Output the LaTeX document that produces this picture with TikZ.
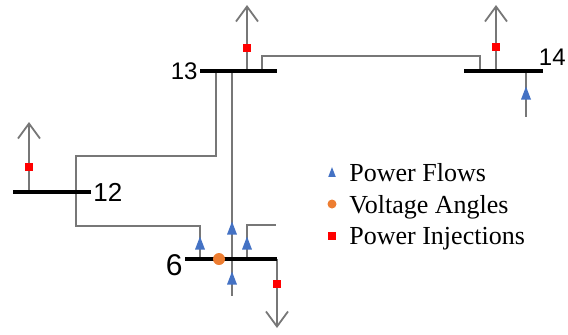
\documentclass[tikz,border=0pt]{standalone}
\usepackage{fontspec}
\setmainfont{Liberation Serif}
\newfontfamily\busfont{Liberation Sans}
\usetikzlibrary{arrows.meta}
\definecolor{flowblue}{HTML}{4472C4}
\definecolor{angleorange}{HTML}{ED7D31}
\definecolor{linegray}{HTML}{777777}

\begin{document}
\begin{tikzpicture}[x=0.5pt, y=-0.5pt,
  bus/.style={line width=2pt},
  line/.style={draw=linegray, line width=0.9pt},
  load/.style={line, -{Straight Barb[length=7.5pt,width=11pt]}},
  inj/.style={fill=red, minimum size=4pt, inner sep=0pt},
  angle/.style={circle, fill=angleorange, minimum size=6pt, inner sep=0pt},
  flow/.pic={\fill[flowblue] (-5,6.5) -- (5,6.5) -- (0,-6.5) -- cycle;},
  busno/.style={font=\busfont\fontsize{12}{14}\selectfont, inner sep=1pt},
  key/.style={font=\fontsize{13}{15}\selectfont, anchor=base west, inner sep=0pt}]
\useasboundingbox (0,0) rectangle (568,334);

% bus ends
\coordinate (b13w) at (200,71); \coordinate (b13e) at (277,71);
\coordinate (b14w) at (464,71); \coordinate (b14e) at (543,71);
\coordinate (b12w) at (13,192); \coordinate (b12e) at (91,192);
\coordinate (b6w) at (185,259); \coordinate (b6e) at (277,259);

% lines between buses
\draw[line] (216,71) -- (216,156) -- (76,156) -- (76,226) -- (200,226) -- (200,259);
\draw[line] (232,71) -- (232,296);
\draw[line] (262,71) -- (262,56) -- (480,56) -- (480,71);
\draw[line] (247,259) -- (247,225) -- (276,225);
\draw[line] (526,71) -- (526,117);

% loads
\draw[load] (247,71) -- (247,5);
\draw[load] (496,71) -- (496,5);
\draw[load] (29,192) -- (29,122);
\draw[load] (b6e) -- (277,328);

% buses
\draw[bus] (b13w) -- (b13e);
\draw[bus] (b14w) -- (b14e);
\draw[bus] (b12w) -- (b12e);
\draw[bus] (b6w) -- (b6e);
\node[busno, anchor=east] (n13) at (b13w) {13};
\node[busno, anchor=east, inner sep=0pt] (n14) at (566,57) {14};
\node[busno, anchor=west, font=\busfont\fontsize{13}{15}\selectfont] (n12) at (b12e) {12};
\node[busno, anchor=east, font=\busfont\fontsize{15}{17}\selectfont] (n6) at ([yshift=-3]b6w) {6};

% measurements
\node[inj] (p13) at (247,48) {};
\node[inj] (p14) at (496,47) {};
\node[inj] (p12) at (29,167) {};
\node[inj] (p6) at (277,284) {};
\pic (f1) at (200,243) {flow};
\pic (f2) at (232,228) {flow};
\pic (f3) at (232,278) {flow};
\pic (f4) at (247,243) {flow};
\pic (f5) at (526,93) {flow};
\node[angle] (a6) at (219,259) {};

% legend
\pic[scale=0.75] (kf) at (332,172) {flow};
\node[angle, minimum size=4.5pt] (ka) at (332,204) {};
\node[inj] (kp) at (332,236) {};
\node[key] (tf) at (349,181) {Power Flows};
\node[key] (ta) at (349,213) {Voltage Angles};
\node[key] (tp) at (349,244) {Power Injections};
\end{tikzpicture}
\end{document}
